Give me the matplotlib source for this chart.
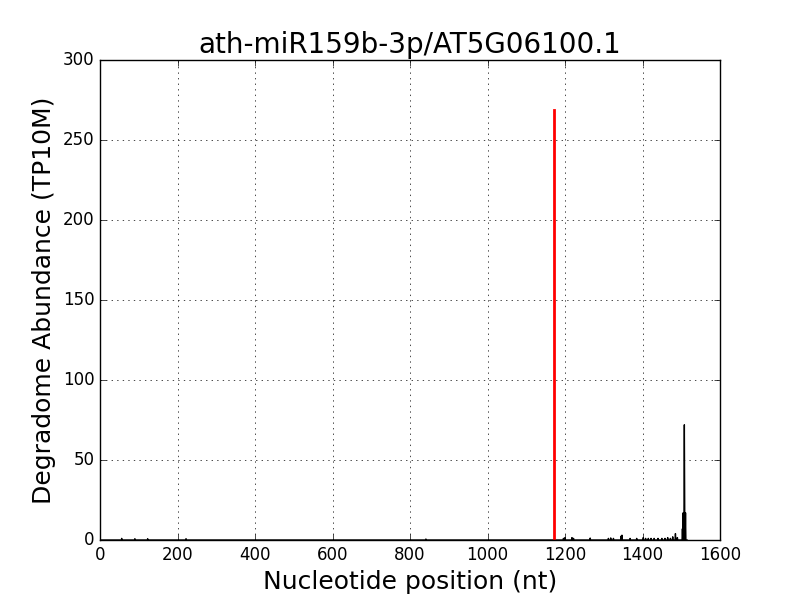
import numpy as np
import matplotlib
matplotlib.use('Agg')
from matplotlib import pyplot as plt

plt.style.use('classic')

title = 'ath-miR159b-3p/AT5G06100.1'
transcript_len = 1515

# degradome tags (position, TP10M)
tag_pos = [56, 90, 123, 222, 841, 1196, 1200, 1218, 1222, 1265, 1312, 1318, 1325,
           1345, 1347, 1368, 1385, 1402, 1408, 1415, 1422, 1430, 1440, 1450, 1458,
           1465, 1472, 1478, 1485, 1490, 1503, 1505, 1507, 1508, 1509, 1511]
tag_val = [1, 0.8, 0.8, 0.8, 0.6, 1, 1.5, 1.5, 1, 1.2, 1, 1.3, 1,
           2.5, 3, 1, 1, 1.5, 1, 1, 1, 1, 1, 1, 1,
           1.5, 1, 2, 4, 1.5, 7, 17, 17, 72, 17, 17]

site_pos = 1172
site_val = 269

abund = np.zeros(transcript_len)
for p, v in zip(tag_pos, tag_val):
    abund[p - 1] = v

fig = plt.figure(figsize=(8, 6), dpi=100)
ax = fig.add_subplot(111)
ax.plot(np.arange(1, transcript_len + 1), abund, color='k', linewidth=1)
ax.plot([site_pos, site_pos], [0, site_val], color='r', linewidth=2)
ax.set_xlim(0, 1600)
ax.set_ylim(0, 300)
ax.grid(True)
ax.set_title(title, fontsize=20)
ax.set_xlabel('Nucleotide position (nt)', fontsize=18)
ax.set_ylabel('Degradome Abundance (TP10M)', fontsize=18)
ax.tick_params(labelsize=12)
fig.subplots_adjust(left=0.125, right=0.9, bottom=0.1, top=0.9)
fig.savefig('out.png', dpi=100)
